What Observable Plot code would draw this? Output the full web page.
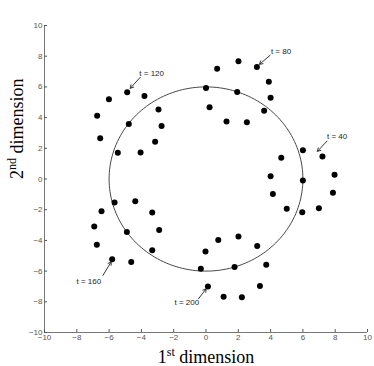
<!DOCTYPE html>
<html><head><meta charset="utf-8">
<script src="https://cdn.jsdelivr.net/npm/d3@7"></script>
<script src="https://cdn.jsdelivr.net/npm/@observablehq/plot@0.6"></script>
<style>body{margin:0;background:#fff} svg{display:block}</style>
</head><body><div id="chart"></div>
<script>
const xs = [-4.88,-6.01,-3.81,-6.74,-2.94,-4.78,-2.75,-6.55,-3.15,-5.46,-4.05,
  2.01,0.69,3.15,3.89,0.00,1.93,4.00,0.22,3.60,1.27,2.53,
  6.00,7.21,4.66,7.96,4.00,6.00,4.14,7.86,5.00,6.99,5.96,
  2.01,0.76,3.17,-0.03,3.73,1.77,-0.32,0.12,3.34,1.09,2.22,
  -5.66,-4.38,-6.47,-3.33,-6.92,-4.90,-2.90,-6.76,-3.33,-5.81,-4.63];
const ys = [5.65,5.19,5.41,4.12,4.52,3.58,3.45,2.66,2.43,1.71,1.73,
  7.67,7.19,7.30,6.34,5.93,5.67,5.30,4.67,4.45,3.75,3.69,
  1.88,1.47,1.38,0.27,0.18,-0.10,-0.97,-0.90,-1.93,-1.90,-2.17,
  -3.75,-3.97,-4.36,-4.73,-5.58,-5.73,-5.84,-7.00,-6.97,-7.67,-7.71,
  -1.53,-1.45,-2.10,-2.19,-3.10,-3.45,-3.32,-4.28,-4.64,-5.23,-5.41];

const annLabels = ["t = 40","t = 80","t = 120","t = 160","t = 200"];
const annTextX  = [7.49, 4.02, -4.13, -6.49, -0.42];
const annTextY  = [2.77, 8.32, 6.89, -6.67, -8.06];
const annSide   = ["start","start","start","end","end"];
const annX1 = [7.49, 3.97, -4.07, -6.38, -0.46];
const annY1 = [2.47, 8.06, 6.63, -6.28, -7.80];
const annX2 = [6.90, 3.31, -4.69, -5.87, 0.01];
const annY2 = [1.80, 7.47, 5.91, -5.39, -7.15];

const tickValues = [-10,-8,-6,-4,-2,0,2,4,6,8,10];
const circleRadius = 6;
const xLabel = "1st dimension";
const yLabel = "2nd dimension";

const points = xs.map((x, i) => ({x, y: ys[i]}));
const circle = d3.range(0, 361, 2).map(a => ({
  x: circleRadius * Math.cos(a * Math.PI / 180),
  y: circleRadius * Math.sin(a * Math.PI / 180)
}));
const ann = annLabels.map((label, i) => ({
  label, tx: annTextX[i], ty: annTextY[i], side: annSide[i],
  x1: annX1[i], y1: annY1[i], x2: annX2[i], y2: annY2[i]
}));

const chart = Plot.plot({
  width: 374, height: 366,
  marginLeft: 44, marginRight: 7, marginTop: 25, marginBottom: 34,
  style: {fontFamily: "'Liberation Sans', Arial, sans-serif", fontSize: "8px", background: "#fff", overflow: "visible"},
  x: {domain: [-10, 10]},
  y: {domain: [-10, 10]},
  marks: [
    Plot.ruleX([-10], {stroke: "#777"}),
    Plot.ruleY([-10], {stroke: "#777"}),
    Plot.axisX({ticks: tickValues, tickSize: -3, tickPadding: 5, color: "#555", label: null}),
    Plot.axisY({ticks: tickValues, tickSize: -3, tickPadding: 5, color: "#555", label: null}),
    Plot.line(circle, {x: "x", y: "y", stroke: "#333", strokeWidth: 0.9}),
    Plot.dot(points, {x: "x", y: "y", r: 3, fill: "black"}),
    Plot.arrow(ann, {x1: "x1", y1: "y1", x2: "x2", y2: "y2", headLength: 6, strokeWidth: 0.9, stroke: "#222"}),
    Plot.text(ann.filter(d => d.side === "start"), {x: "tx", y: "ty", text: "label", textAnchor: "start", fill: "#222", fontSize: 8}),
    Plot.text(ann.filter(d => d.side === "end"), {x: "tx", y: "ty", text: "label", textAnchor: "end", fill: "#222", fontSize: 8}),
    Plot.text([xLabel], {frameAnchor: "bottom", dy: 30, lineAnchor: "bottom", text: d => d, fontFamily: "'Liberation Serif', 'Times New Roman', serif", fontSize: 18, fill: "#000"}),
    Plot.text([yLabel], {frameAnchor: "left", rotate: -90, dx: -22, lineAnchor: "bottom", text: d => d, fontFamily: "'Liberation Serif', 'Times New Roman', serif", fontSize: 18, fill: "#000"})
  ]
});

// superscript ordinal suffixes in axis titles
d3.select(chart).selectAll("text").each(function() {
  const t = this.textContent;
  const m = /^(\d)(st|nd|rd|th)( .*)$/.exec(t);
  if (!m || (t !== xLabel && t !== yLabel)) return;
  const el = d3.select(this);
  el.text(null);
  el.append("tspan").text(m[1]);
  el.append("tspan").attr("font-size", 12).attr("dy", -7).text(m[2]);
  el.append("tspan").attr("dy", 7).text(m[3]);
});

document.getElementById("chart").append(chart);
</script>
</body></html>
